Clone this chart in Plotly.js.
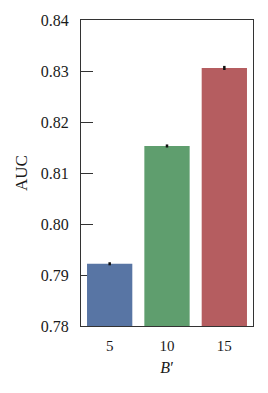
<!DOCTYPE html>
<html>
<head>
<meta charset="utf-8">
<script src="https://cdn.plot.ly/plotly-3.0.1.min.js"></script>
<style>html,body{margin:0;padding:0;background:#fff;}#chart{width:268px;height:393px;}</style>
</head>
<body>
<div id="chart"></div>
<script>
const categories = ["5", "10", "15"];
const aucValues = [0.7922, 0.8153, 0.8306];
const aucErrors = [0.0003, 0.0003, 0.0004];
const barColors = ["#5875a4", "#5f9e6e", "#b55d60"];
const yTickValues = [0.78, 0.79, 0.80, 0.81, 0.82, 0.83, 0.84];
const yTickLabels = ["0.78", "0.79", "0.80", "0.81", "0.82", "0.83", "0.84"];

const fam = "Liberation Serif";
const font = {family: fam, color: "#1a1a1a"};

Plotly.newPlot("chart", [{
  type: "bar",
  x: categories,
  y: aucValues,
  marker: {color: barColors, line: {width: 0}},
  error_y: {type: "data", array: aucErrors, visible: true, color: "#111", thickness: 2.5, width: 0},
  hoverinfo: "none"
}], {
  width: 268, height: 393,
  margin: {l: 81, r: 15, t: 20, b: 67},
  paper_bgcolor: "#fff", plot_bgcolor: "#fff",
  font: Object.assign({size: 15}, font),
  bargap: 0.21,
  showlegend: false,
  xaxis: {
    type: "category",
    showline: true, mirror: true, linecolor: "#333", linewidth: 1,
    ticks: "", showgrid: false, zeroline: false,
    ticklabelstandoff: 6,
    tickfont: Object.assign({size: 15}, font),
    title: {text: "<i>B</i>′", font: Object.assign({size: 16}, font), standoff: 8},
    layer: "below traces"
  },
  yaxis: {
    range: [0.78, 0.84],
    tickvals: yTickValues, ticktext: yTickLabels,
    showline: true, mirror: true, linecolor: "#333", linewidth: 1,
    ticks: "inside", ticklen: 12, tickcolor: "#333", tickwidth: 1,
    showgrid: false, zeroline: false,
    ticklabelstandoff: 8,
    tickfont: Object.assign({size: 16}, font),
    title: {text: "AUC", font: Object.assign({size: 17}, font), standoff: 8},
    layer: "below traces"
  }
}, {displayModeBar: false, staticPlot: true});
</script>
</body>
</html>
